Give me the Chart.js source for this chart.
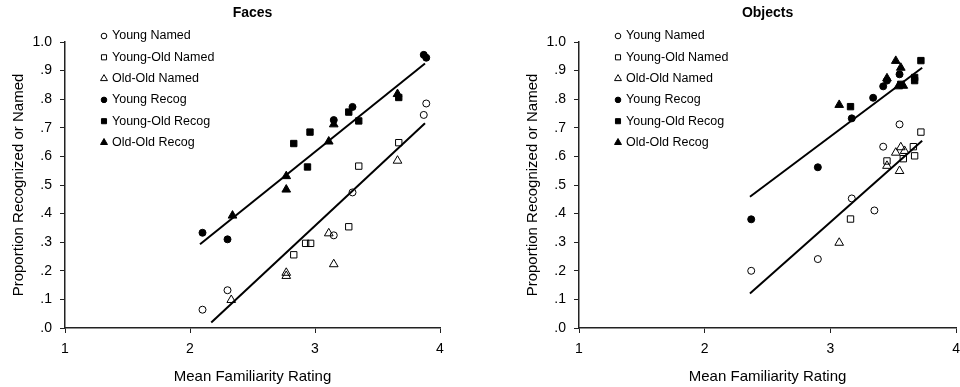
<!DOCTYPE html>
<html>
<head>
<meta charset="utf-8">
<script src="https://cdn.jsdelivr.net/npm/chart.js@4.4.0/dist/chart.umd.min.js"></script>
<style>
  html, body { margin: 0; padding: 0; background: #fff; overflow: hidden; }
  #faces { position: absolute; left: 0; top: 0; }
  #objects { position: absolute; left: 500px; top: 0; }
</style>
</head>
<body>
<canvas id="faces" width="480" height="387"></canvas>
<canvas id="objects" width="468" height="387"></canvas>
<script>
const seriesLabels = ['Young Named', 'Young-Old Named', 'Old-Old Named', 'Young Recog', 'Young-Old Recog', 'Old-Old Recog'];
const xTickLabels = ['1', '2', '3', '4'];
const yTickLabels = ['.0', '.1', '.2', '.3', '.4', '.5', '.6', '.7', '.8', '.9', '1.0'];

// Faces: [familiarity, proportion]
const facesYoungNamed = [[2.10, 0.064], [2.30, 0.132], [3.15, 0.324], [3.30, 0.474], [3.87, 0.745], [3.89, 0.785]];
const facesYoungOldNamed = [[2.83, 0.256], [2.925, 0.296], [2.965, 0.296], [3.27, 0.354], [3.35, 0.566], [3.67, 0.648]];
const facesOldOldNamed = [[2.33, 0.098], [2.77, 0.182], [2.77, 0.193], [3.11, 0.331], [3.15, 0.223], [3.66, 0.585]];
const facesYoungRecog = [[2.10, 0.333], [2.30, 0.310], [3.15, 0.727], [3.30, 0.773], [3.87, 0.955], [3.89, 0.945]];
const facesYoungOldRecog = [[2.83, 0.645], [2.96, 0.685], [2.94, 0.563], [3.27, 0.755], [3.35, 0.724], [3.67, 0.806]];
const facesOldOldRecog = [[2.34, 0.393], [2.77, 0.531], [2.77, 0.484], [3.11, 0.652], [3.15, 0.712], [3.66, 0.818]];
const facesRecogLine = [[2.08, 0.293], [3.88, 0.925]];
const facesNamedLine = [[2.17, 0.019], [3.88, 0.716]];

// Objects
const objectsYoungNamed = [[2.37, 0.200], [2.90, 0.241], [3.17, 0.453], [3.35, 0.411], [3.42, 0.634], [3.55, 0.712]];
const objectsYoungOldNamed = [[3.16, 0.381], [3.45, 0.584], [3.58, 0.592], [3.66, 0.634], [3.67, 0.602], [3.72, 0.685]];
const objectsOldOldNamed = [[3.07, 0.298], [3.45, 0.567], [3.52, 0.613], [3.56, 0.632], [3.59, 0.619], [3.55, 0.549]];
const objectsYoungRecog = [[2.37, 0.380], [2.90, 0.562], [3.17, 0.733], [3.34, 0.805], [3.42, 0.845], [3.45, 0.865], [3.55, 0.887]];
const objectsYoungOldRecog = [[3.16, 0.774], [3.56, 0.852], [3.67, 0.876], [3.67, 0.865], [3.72, 0.935]];
const objectsOldOldRecog = [[3.07, 0.780], [3.45, 0.873], [3.52, 0.934], [3.56, 0.910], [3.58, 0.847], [3.54, 0.845]];
const objectsRecogLine = [[2.36, 0.459], [3.73, 0.910]];
const objectsNamedLine = [[2.36, 0.121], [3.73, 0.655]];

const fontFamily = '"Liberation Sans", Arial, sans-serif';
Chart.defaults.font.family = fontFamily;
Chart.defaults.color = '#000';

const pointStyles = ['circle', 'rect', 'triangle', 'circle', 'rect', 'triangle'];
const pointSizes = [3.5, 4.5, 5, 3.5, 4.5, 5];
const toXY = pairs => pairs.map(p => ({ x: p[0], y: p[1] }));

// legend drawn inside the plot, top left
const insideLegend = {
    id: 'insideLegend',
    afterDraw(chart) {
        const { ctx, chartArea } = chart;
        ctx.save();
        ctx.font = '12.5px ' + fontFamily;
        ctx.textBaseline = 'middle';
        chart.data.datasets.forEach((ds, i) => {
            if (ds.showLine) return;
            const y = chartArea.top - 6 + i * 21.3;
            ctx.strokeStyle = '#000';
            ctx.fillStyle = ds.backgroundColor;
            ctx.lineWidth = 1;
            Chart.helpers.drawPoint(ctx, { pointStyle: ds.pointStyle, radius: ds.pointRadius * 0.8, borderWidth: 1 }, chartArea.left + 39, y);
            ctx.fillStyle = '#000';
            ctx.fillText(ds.label, chartArea.left + 47, y);
        });
        ctx.restore();
    }
};

function makeChart(id, title, series, lines, yAxisWidth, yTitlePad, rightPad) {
    const datasets = series.map((s, i) => ({
        label: seriesLabels[i],
        data: toXY(s),
        pointStyle: pointStyles[i],
        pointRadius: pointSizes[i],
        pointHoverRadius: pointSizes[i],
        borderWidth: 1,
        borderColor: '#000',
        backgroundColor: i < 3 ? 'rgba(0,0,0,0)' : '#000'
    }));
    lines.forEach(l => datasets.push({
        label: '',
        data: toXY(l),
        showLine: true,
        pointRadius: 0,
        borderColor: '#000',
        borderWidth: 2
    }));

    return new Chart(document.getElementById(id), {
        type: 'scatter',
        data: { datasets },
        options: {
            responsive: false,
            animation: false,
            layout: { padding: { left: 0, right: rightPad, top: 0, bottom: 0 } },
            plugins: {
                legend: { display: false },
                tooltip: { enabled: false },
                title: {
                    display: true,
                    text: title,
                    fullSize: false,
                    font: { size: 14, weight: 'bold' },
                    padding: { top: 5, bottom: 20.2 }
                }
            },
            scales: {
                x: {
                    type: 'linear',
                    min: 1,
                    max: 4,
                    ticks: { stepSize: 1, padding: 8, font: { size: 14 }, callback: (v, i) => xTickLabels[i] },
                    grid: { drawOnChartArea: false, tickLength: 5, color: '#222' },
                    border: { color: '#222', width: 1.5 },
                    title: { display: true, text: 'Mean Familiarity Rating', font: { size: 15 }, padding: { top: 0, bottom: 1 } },
                    afterFit: s => { s.height = 59; }
                },
                y: {
                    min: 0,
                    max: 1,
                    ticks: { stepSize: 0.1, padding: 8, font: { size: 14 }, callback: (v, i) => yTickLabels[i] },
                    grid: { drawOnChartArea: false, tickLength: 5, color: '#222' },
                    border: { color: '#222', width: 1.5 },
                    title: { display: true, text: 'Proportion Recognized or Named', font: { size: 15 }, padding: { top: yTitlePad, bottom: 0 } },
                    afterFit: s => { s.width = yAxisWidth; }
                }
            }
        },
        plugins: [insideLegend]
    });
}

makeChart('faces', 'Faces',
    [facesYoungNamed, facesYoungOldNamed, facesOldOldNamed, facesYoungRecog, facesYoungOldRecog, facesOldOldRecog],
    [facesRecogLine, facesNamedLine], 65, 10, 40);

makeChart('objects', 'Objects',
    [objectsYoungNamed, objectsYoungOldNamed, objectsOldOldNamed, objectsYoungRecog, objectsYoungOldRecog, objectsOldOldRecog],
    [objectsRecogLine, objectsNamedLine], 79, 24, 0);
</script>
</body>
</html>
